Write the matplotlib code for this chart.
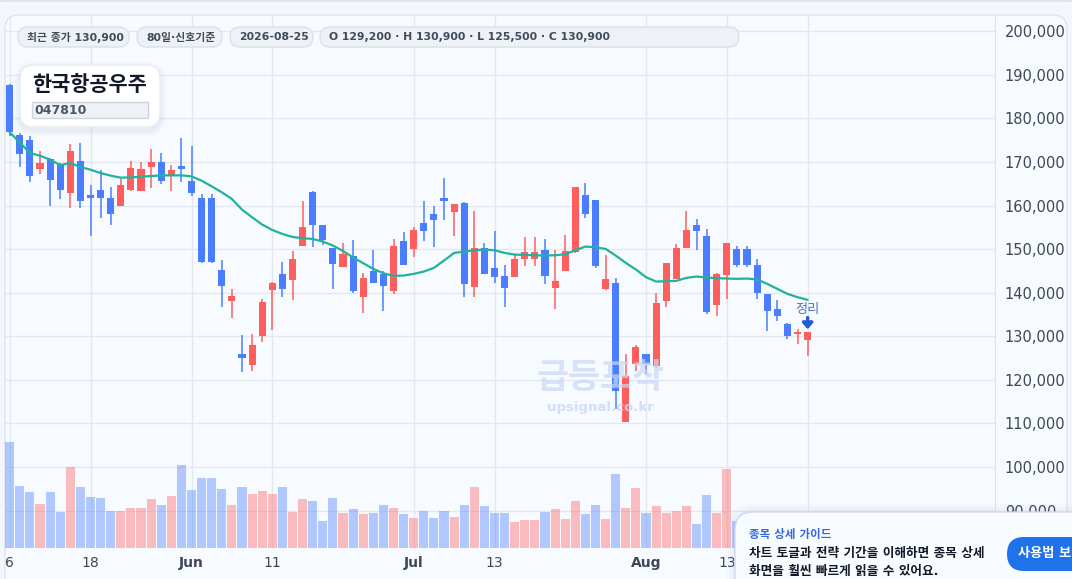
import matplotlib
matplotlib.use('Agg')
import matplotlib.pyplot as plt
from matplotlib.patches import FancyBboxPatch, Rectangle
from matplotlib.transforms import IdentityTransform

W, H = 1072, 579
plt.rcParams['font.family'] = ['DejaVu Sans', 'Noto Sans CJK KR']

# 한국항공우주 (047810) daily candles, 2026-05-06 .. 2026-08-25 (weekdays)
name = '한국항공우주'
code = '047810'
last_date = '2026-08-25'

opens = [187600, 176200, 175000, 168500, 170800, 169200, 163000, 170200, 162400, 163600,
         161700, 160000, 163500, 163400, 168900, 169900, 167100, 169100, 165600, 161700,
         161700, 145200, 138100, 126000, 123500, 130100, 140700, 144300, 143000, 150700,
         163100, 155600, 150300, 145900, 148400, 139100, 145000, 144300, 140400, 151900,
         150100, 156000, 158100, 161700, 158500, 160600, 141300, 150300, 145700, 143900,
         143600, 147800, 147800, 149800, 141100, 145000, 149400, 162400, 161300, 140900,
         142300, 110300, 123700, 126000, 123200, 138100, 143200, 150300, 155600, 153000,
         137200, 144100, 150000, 150000, 146400, 139700, 136300, 132900, 130600, 129200]
highs = [187800, 176600, 176000, 172500, 171000, 169800, 174100, 174300, 164700, 168200,
         164300, 166000, 170200, 170100, 172900, 172000, 169300, 175500, 173700, 162700,
         162700, 147500, 140900, 130300, 130600, 138600, 142400, 147100, 149600, 161000,
         163400, 155600, 150300, 151400, 152100, 144600, 149800, 145000, 152300, 153900,
         155100, 161000, 159900, 166300, 160400, 160800, 158800, 151400, 154200, 146400,
         148900, 152800, 152800, 152300, 149800, 153300, 164300, 165200, 161300, 148700,
         143400, 126000, 128100, 126000, 140000, 146900, 151200, 158800, 156900, 154600,
         144600, 151500, 150700, 150700, 147800, 139800, 138400, 133100, 131700, 130900]
lows = [176000, 168900, 165300, 167200, 160000, 161600, 159500, 159500, 153100, 157200,
        155600, 160000, 163300, 163300, 164000, 165000, 163300, 165400, 162100, 146900,
        146900, 136800, 134200, 121900, 122100, 128700, 131500, 139100, 138400, 150700,
        150500, 151000, 140900, 145900, 140000, 135400, 142200, 135800, 139700, 146300,
        148200, 151900, 150500, 156700, 153000, 139100, 139000, 144300, 142300, 136800,
        143600, 146200, 146200, 142000, 136300, 145000, 149100, 157200, 145700, 140700,
        113400, 110300, 122100, 121000, 122800, 136800, 143100, 150300, 149800, 135200,
        134700, 138600, 145900, 145900, 138600, 131300, 133600, 129400, 128300, 125500]
closes = [176800, 171800, 166900, 169800, 165900, 163600, 172500, 161100, 161800, 161800,
          158100, 164700, 168600, 168500, 170100, 165600, 168200, 168500, 162900, 147100,
          147100, 141600, 139300, 125100, 128000, 137900, 142300, 140900, 147800, 155100,
          155600, 152100, 146600, 148900, 140400, 143400, 142300, 141600, 150700, 146400,
          154400, 154200, 156700, 161000, 160400, 142000, 150300, 144300, 143600, 141100,
          147800, 149400, 149400, 143900, 142700, 149600, 164300, 158100, 146200, 143200,
          117500, 120900, 127600, 123700, 137700, 146800, 150300, 154400, 154200, 135600,
          144300, 151400, 146400, 146400, 140000, 135800, 134700, 130100, 131000, 130900]
ma20 = [176800, 174500, 172050, 171440, 170530, 169300, 169760, 168850, 168230, 167470,
        166860, 166400, 166480, 166630, 166780, 166940, 166940, 166940, 166700, 165710,
        164410, 163040, 161510, 159070, 157310, 155630, 154400, 153490, 152800, 152500,
        152340, 151730, 150820, 149590, 148070, 146770, 145470, 144470, 143860, 143940,
        144320, 144860, 145700, 147380, 149130, 149440, 149740, 149900, 149740, 149130,
        148750, 148680, 148600, 148520, 148600, 148830, 149740, 150590, 150430, 150050,
        148520, 146840, 145320, 143560, 142560, 142640, 142720, 143410, 143710, 143480,
        143330, 143250, 143180, 143250, 143020, 142030, 140880, 139740, 138970, 138360]
# volume, thousand shares
volumes = [1060, 620, 560, 440, 560, 360, 810, 610, 510, 500,
           370, 370, 400, 400, 490, 430, 520, 830, 580, 700,
           700, 590, 430, 610, 540, 570, 540, 610, 360, 490,
           470, 270, 500, 350, 390, 340, 350, 430, 400, 340,
           300, 370, 300, 370, 310, 430, 610, 420, 350, 350,
           260, 280, 280, 360, 390, 290, 470, 340, 430, 290,
           740, 400, 600, 350, 420, 350, 370, 420, 240, 530,
           350, 790, 270, 300, 280, 330, 290, 310, 270, 320]

tick_pos = [0, 8, 18, 26, 40, 48, 63, 71, 79]
tick_labels = ['6', '18', 'Jun', '11', 'Jul', '13', 'Aug', '13', '']
month_labels = ['Jun', 'Jul', 'Aug']

UP = '#ff5e5e'
DOWN = '#4a7dff'
MA_COLOR = '#1fb39b'
TEXT = '#3d4757'

fig = plt.figure(figsize=(W / 100, H / 100), dpi=100, facecolor='#eef2f8')


def box(x0, y0, x1, y1, r, fc, ec='none', lw=1.0, z=1, alpha=1.0):
    p = FancyBboxPatch((x0, H - y1), x1 - x0, y1 - y0,
                       boxstyle=f'round,pad=0,rounding_size={r}',
                       transform=IdentityTransform(), fc=fc, ec=ec, lw=lw,
                       zorder=z, alpha=alpha)
    fig.add_artist(p)
    return p


def txt(x, y, s, **kw):
    kw.setdefault('va', 'center')
    return fig.text(x, H - y, s, transform=IdentityTransform(), **kw)


# card backgrounds
box(-10, 1, 1082, 650, 14, '#f3f6fb', ec='#d9dfe8', z=-3)
box(5, 15, 1067, 650, 14, '#f7faff', ec='#dfe5ee', z=-2)

ax = fig.add_axes([5 / W, 1 - 548 / H, 990 / W, (548 - 15.5) / H])
# volume overlay (created first so it does not move the price ticks)
axv = ax.twinx()
axv.set_ylim(0, 5325)
axv.axis('off')

ax.set_facecolor('none')
ax.set_xlim(-0.465, 97.55)
ax.set_ylim(81400, 203630)
ax.set_axisbelow(True)
ax.grid(True, color='#e3e8ef', lw=1)

for s in ['top', 'left', 'bottom']:
    ax.spines[s].set_visible(False)
ax.spines['right'].set_color('#dde3ec')

ax.yaxis.tick_right()
ax.set_yticks(range(90000, 200001, 10000))
ax.set_yticklabels([f'{v:,}' for v in range(90000, 200001, 10000)])
ax.tick_params(axis='y', length=0, pad=7, labelsize=10.5, labelcolor=TEXT,
               left=False, labelleft=False, right=True, labelright=True)
ax.set_xticks(tick_pos)
ax.set_xticklabels(tick_labels)
ax.tick_params(axis='x', length=0, pad=6, labelsize=10, labelcolor=TEXT)
for lab in ax.get_xticklabels():
    if lab.get_text() in month_labels:
        lab.set_fontweight('bold')

xs = list(range(len(closes)))
vcols = [UP if c >= o else DOWN for o, c in zip(opens, closes)]
axv.bar(xs, volumes, width=0.9, color=vcols, alpha=0.4, lw=0)

# candles
ccols = [UP if c >= o else DOWN for o, c in zip(opens, closes)]
ax.vlines(xs, lows, highs, colors=ccols, lw=1.1, zorder=3)
bottoms = [min(o, c) for o, c in zip(opens, closes)]
heights = [max(abs(c - o), 250) for o, c in zip(opens, closes)]
ax.bar(xs, heights, bottom=bottoms, width=0.7, color=ccols, lw=0, zorder=4)

ax.plot(xs, ma20, color=MA_COLOR, lw=1.6, zorder=5, solid_capstyle='round')

# signal marker on last candle
ax.annotate('', xy=(xs[-1], highs[-1] + 700), xytext=(xs[-1], highs[-1] + 3400),
            arrowprops=dict(arrowstyle='-|>,head_width=0.3,head_length=0.35',
                            color='#2358d8', lw=2.4, shrinkA=0, shrinkB=0), zorder=6)
ax.text(xs[-1], highs[-1] + 5200, '정리', ha='center', va='center',
        fontsize=9.5, color='#4a74cc', zorder=6)

# watermark
txt(601, 378, '급등포착', ha='center', fontsize=25, fontweight='bold',
    color='#c9d8f6', alpha=0.7, zorder=2)
txt(600, 407, 'upsignal.co.kr', ha='center', fontsize=9.5, fontweight='bold',
    color='#cbd9f5', alpha=0.85, zorder=2)

# info pills
pills = [
    (18, 129, f'최근 종가 {closes[-1]:,}'),
    (137, 222, '80일·신호기준'),
    (230, 313, last_date),
    (320, 739, f'O {opens[-1]:,} · H {highs[-1]:,} · L {lows[-1]:,} · C {closes[-1]:,}'),
]
for x0, x1, label in pills:
    box(x0, 27, x1, 47, 10, '#eef1f5', ec='#dce1e8', z=5)
    txt(x0 + 9, 37.5, label, fontsize=7.8, fontweight='bold', color='#404b5c', zorder=6)

# name card
for k, a in [(6, 0.03), (4, 0.04), (2, 0.05)]:
    box(20 - k, 65 - k + 3, 160 + k, 127 + k + 3, 14 + k, '#8090b0', z=5, alpha=a)
box(20, 65, 160, 127, 14, '#ffffff', ec='#e9edf3', z=6)
txt(32, 85, name, fontsize=15, fontweight='bold', color='#111827', zorder=7)
fig.add_artist(Rectangle((32, H - 118), 116, 16, transform=IdentityTransform(),
                         fc='#eef1f5', ec='#cfd5de', lw=1, zorder=7))
txt(34, 110, code, fontsize=9, fontweight='bold', color='#4b5563', zorder=8)

# guide popup
for k, a in [(8, 0.03), (5, 0.04), (2, 0.06)]:
    box(735 - k, 512 - k, 1090, 620, 18 + k, '#7d8fb8', z=7, alpha=a)
box(735, 512, 1090, 620, 18, '#f8fbff', ec='#cddaf2', z=8)
txt(749, 534, '종목 상세 가이드', fontsize=8.3, fontweight='bold', color='#2d6be4', zorder=9)
txt(749, 553, '차트 토글과 전략 기간을 이해하면 종목 상세', fontsize=9.1,
    fontweight='bold', color='#111827', zorder=9)
txt(749, 572, '화면을 훨씬 빠르게 읽을 수 있어요.', fontsize=9.1,
    fontweight='bold', color='#111827', zorder=9)
box(1007, 537, 1100, 571, 17, '#1f72ea', z=9)
txt(1018, 554, '사용법 보기', fontsize=9.5, fontweight='bold', color='white', zorder=10)

fig.savefig('out.png', dpi=100, facecolor=fig.get_facecolor())
